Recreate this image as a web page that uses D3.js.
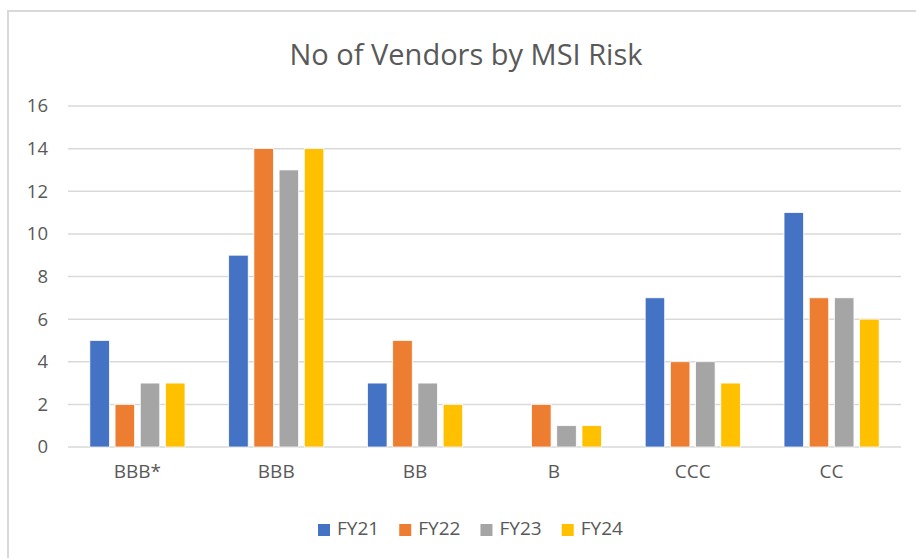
<!DOCTYPE html>
<html>
<head>
<meta charset="utf-8">
<script src="https://cdn.jsdelivr.net/npm/d3@7"></script>
<style>
  body { margin: 0; background: #fff; }
  text { font-family: "Open Sans", "Noto Sans", sans-serif; fill: #595959; }
</style>
</head>
<body>
<div class="chart"></div>
<script>
// chart data
var categories = ["BBB*", "BBB", "BB", "B", "CCC", "CC"];
var seriesNames = ["FY21", "FY22", "FY23", "FY24"];
var fy21 = [5, 9, 3, 0, 7, 11];
var fy22 = [2, 14, 5, 2, 4, 7];
var fy23 = [3, 13, 3, 1, 4, 7];
var fy24 = [3, 14, 2, 1, 3, 6];
var yTicks = [0, 2, 4, 6, 8, 10, 12, 14, 16];
var colors = ["#4472C4", "#ED7D31", "#A5A5A5", "#FFC000"];

var seriesValues = [fy21, fy22, fy23, fy24];

var svgWidth = 916, svgHeight = 558;
var margin = {top: 106, right: 15, bottom: 111, left: 68};
var width = svgWidth - margin.left - margin.right;
var height = svgHeight - margin.top - margin.bottom;

var svg = d3.select(".chart")
    .append("svg")
    .attr("width", svgWidth)
    .attr("height", svgHeight);

// chart frame (runs off the right and bottom edge)
svg.append("rect")
    .attr("x", 8)
    .attr("y", 11)
    .attr("width", svgWidth + 20)
    .attr("height", svgHeight + 20)
    .attr("fill", "none")
    .attr("stroke", "#d9d9d9")
    .attr("stroke-width", 2);

// title
svg.append("text")
    .attr("x", 466)
    .attr("y", 65)
    .attr("text-anchor", "middle")
    .style("font-size", "29px")
    .text("No of Vendors by MSI Risk");

var chart = svg.append("g")
    .attr("transform", "translate(" + margin.left + "," + margin.top + ")");

// scales
var x0 = d3.scaleBand().domain(categories).range([0, width]).padding(0);
var x1 = d3.scaleBand().domain(seriesNames).range([0, x0.bandwidth()])
    .paddingInner(0.226).paddingOuter(0.867);
var y = d3.scaleLinear().domain([0, 16]).range([height, 0]);

// gridlines
chart.selectAll("line.grid")
    .data(yTicks)
    .enter().append("line")
    .attr("class", "grid")
    .attr("x1", 0)
    .attr("x2", width)
    .attr("y1", function(d) { return y(d); })
    .attr("y2", function(d) { return y(d); })
    .attr("stroke", "#d9d9d9")
    .attr("stroke-width", 1.5);

// y axis labels
var leftAxis = d3.axisLeft(y).tickValues(yTicks).tickSize(0).tickPadding(20);
chart.append("g")
    .attr("class", "y-axis")
    .call(leftAxis)
    .call(function(g) { g.select(".domain").remove(); })
    .selectAll("text")
    .style("font-size", "18.5px")
    .attr("fill", "#595959");

// x axis labels
var bottomAxis = d3.axisBottom(x0).tickSize(0).tickPadding(18);
chart.append("g")
    .attr("class", "x-axis")
    .attr("transform", "translate(0," + height + ")")
    .call(bottomAxis)
    .call(function(g) { g.select(".domain").remove(); })
    .selectAll("text")
    .style("font-size", "19px")
    .attr("fill", "#595959");

// bars
var groups = chart.selectAll("g.cat")
    .data(categories)
    .enter().append("g")
    .attr("class", "cat")
    .attr("transform", function(d) { return "translate(" + x0(d) + ",0)"; });

groups.selectAll("rect")
    .data(function(c, i) {
        return seriesNames.map(function(s, j) {
            return {series: s, value: seriesValues[j][i], color: colors[j]};
        });
    })
    .enter().append("rect")
    .attr("x", function(d) { return x1(d.series); })
    .attr("width", x1.bandwidth())
    .attr("y", function(d) { return y(d.value); })
    .attr("height", function(d) { return height - y(d.value); })
    .attr("fill", function(d) { return d.color; })
    .attr("stroke", "#fff")
    .attr("stroke-width", function(d) { return d.value > 0 ? 0.75 : 0; });

// legend
var legendX = d3.scalePoint().domain(seriesNames).range([318, 561.7]);
var legend = svg.selectAll("g.legend")
    .data(seriesNames)
    .enter().append("g")
    .attr("class", "legend")
    .attr("transform", function(d) { return "translate(" + legendX(d) + ",524)"; });

legend.append("rect")
    .attr("width", 12)
    .attr("height", 12)
    .attr("fill", function(d, i) { return colors[i]; });

legend.append("text")
    .attr("x", 19)
    .attr("y", 10.5)
    .style("font-size", "19px")
    .text(function(d) { return d; });
</script>
</body>
</html>
